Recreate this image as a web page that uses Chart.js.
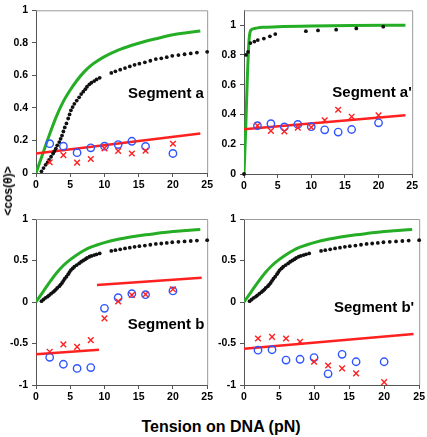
<!DOCTYPE html>
<html><head><meta charset="utf-8">
<script src="https://cdn.jsdelivr.net/npm/chart.js@4.4.1/dist/chart.umd.min.js"></script>
<style>
html,body{margin:0;padding:0;background:#fff;width:427px;height:437px;overflow:hidden;}
canvas{position:absolute;}
#ytitle{position:absolute;left:8px;top:191px;transform:translate(-50%,-50%) rotate(-90deg);font:bold 12px "Liberation Sans",Arial,sans-serif;white-space:nowrap;color:#000;}
#xtitle{position:absolute;left:221px;top:427px;transform:translate(-50%,-50%);font:bold 16px "Liberation Sans",Arial,sans-serif;white-space:nowrap;color:#000;}
</style></head><body>
<canvas id="ca" width="215" height="195" style="left:0;top:0"></canvas>
<canvas id="cap" width="215" height="195" style="left:205px;top:0"></canvas>
<canvas id="cb" width="215" height="205" style="left:0;top:200px"></canvas>
<canvas id="cbp" width="222" height="205" style="left:205px;top:200px"></canvas>
<div id="ytitle">&lt;cos(θ)&gt;</div>
<div id="xtitle">Tension on DNA (pN)</div>
<script>
// ---------- data ----------
const xTicks = [0, 5, 10, 15, 20, 25];
const yTicksTop = [0, 0.2, 0.4, 0.6, 0.8, 1];
const yTicksBottom = [-1, -0.5, 0, 0.5, 1];
const segmentLabels = ["Segment a", "Segment a'", "Segment b", "Segment b'"];
const xTitle = "Tension on DNA (pN)";
const yTitle = "<cos(θ)>";

// model curve (green) shared by a, b, b'
const greenX = [0, 1, 2, 3, 4, 5, 6, 7, 8, 9, 10, 12, 14, 16, 18, 20, 22, 24];
const greenY = [0, 0.12, 0.24, 0.35, 0.44, 0.51, 0.57, 0.62, 0.66, 0.69, 0.715, 0.755, 0.785, 0.81, 0.83, 0.85, 0.862, 0.873];
// measured extension (black dots) shared by a, b, b'
const dotsX = [0.8, 1.1, 1.4, 1.7, 1.9, 2.2, 2.5, 2.7, 2.9, 3.1, 3.4, 3.6, 3.8, 4.0, 4.2, 4.45, 4.7, 4.9, 5.1, 5.35, 5.6, 5.95, 6.3, 6.6, 6.9, 7.2, 7.45, 7.8, 8.1, 8.5, 8.85, 9.3,
  11.0, 11.6, 12.3, 13.0, 13.7, 14.4, 15.1, 15.9, 16.7, 17.5, 18.3, 19.1, 19.9, 20.8, 21.7, 22.6, 23.5, 25.0];
const dotsY = [0.01, 0.03, 0.05, 0.065, 0.08, 0.10, 0.12, 0.135, 0.15, 0.17, 0.19, 0.21, 0.23, 0.255, 0.28, 0.305, 0.335, 0.36, 0.385, 0.405, 0.425, 0.445, 0.465, 0.485, 0.50, 0.515, 0.53, 0.545, 0.555, 0.565, 0.575, 0.585,
  0.615, 0.625, 0.635, 0.645, 0.655, 0.665, 0.672, 0.68, 0.69, 0.70, 0.705, 0.712, 0.72, 0.725, 0.73, 0.735, 0.74, 0.745];

// segment a' curves
const apGreenX = [0, 0.25, 0.5, 0.75, 1, 1.5, 2, 3, 5, 10, 16, 24];
const apGreenY = [0, 0.3, 0.65, 0.9, 0.965, 0.977, 0.982, 0.986, 0.99, 0.995, 0.998, 1.0];
const apDotsX = [0, 0.3, 0.6, 0.95, 1.55, 2.05, 2.95, 3.85, 4.65, 9.2, 11.0, 13.7, 16.7, 20.7];
const apDotsY = [0, 0.80, 0.82, 0.88, 0.89, 0.90, 0.91, 0.925, 0.94, 0.96, 0.965, 0.97, 0.978, 0.99];

// simulation forces
const forceX = [2, 4, 6, 8, 10, 12, 14, 16, 20];

// segment a
const aCircles = [0.18, 0.165, 0.125, 0.155, 0.165, 0.175, 0.195, 0.163, 0.12];
const aCrosses = [0.066, 0.11, 0.064, 0.086, 0.151, 0.135, 0.12, 0.137, 0.18];
const aLineX = [0, 24];
const aLineY = [0.12, 0.243];
// segment a'
const apCircles = [0.325, 0.338, 0.316, 0.333, 0.318, 0.297, 0.282, 0.299, 0.344];
const apCrosses = [0.325, 0.29, 0.286, 0.312, 0.314, 0.361, 0.432, 0.385, 0.394];
const apLineX = [0, 24];
const apLineY = [0.30, 0.394];
// segment b
const bCircles = [-0.667, -0.75, -0.80, -0.79, -0.076, 0.052, 0.10, 0.088, 0.133];
const bCrosses = [-0.60, -0.51, -0.54, -0.46, -0.197, 0.008, 0.084, 0.092, 0.153];
const bLine1X = [0, 9.2];
const bLine1Y = [-0.63, -0.574];
const bLine2X = [8.9, 24.2];
const bLine2Y = [0.205, 0.293];
// segment b'
const bpCircles = [-0.58, -0.575, -0.70, -0.69, -0.67, -0.865, -0.63, -0.72, -0.72];
const bpCrosses = [-0.44, -0.42, -0.44, -0.48, -0.72, -0.765, -0.80, -0.86, -0.965];
const bpLineX = [0, 24.2];
const bpLineY = [-0.563, -0.386];

// ---------- helpers ----------
const FONT = '"Liberation Sans", Arial, sans-serif';
const GREEN = '#26ad26', RED = '#ff2020', BLUE = '#2f55ff', BLACK = '#111';
function pts(xs, ys) { return xs.map((x, i) => ({ x: x, y: ys[i] })); }
function greenDs(xs, ys) {
  return { data: pts(xs, ys), showLine: true, pointRadius: 0, borderColor: GREEN, borderWidth: 3, cubicInterpolationMode: 'monotone', order: 5 };
}
function redDs(xs, ys) {
  return { data: pts(xs, ys), showLine: true, pointRadius: 0, borderColor: RED, borderWidth: 2.5, order: 4 };
}
function dotDs(xs, ys) {
  return { data: pts(xs, ys), showLine: false, pointRadius: 1.9, pointBackgroundColor: BLACK, pointBorderWidth: 0, clip: false, order: 3 };
}
function circleDs(ys) {
  return { data: pts(forceX, ys), showLine: false, pointStyle: 'circle', pointRadius: 3.7, pointBackgroundColor: 'rgba(0,0,0,0)', pointBorderColor: BLUE, pointBorderWidth: 1.4, clip: false, order: 2 };
}
function crossDs(ys) {
  return { data: pts(forceX, ys), showLine: false, pointStyle: 'crossRot', pointRadius: 4, pointBorderColor: RED, pointBorderWidth: 1.4, clip: false, order: 1 };
}
const framePlugin = {
  id: 'frame',
  beforeDatasetsDraw(chart) {
    const a = chart.chartArea, ctx = chart.ctx;
    ctx.save();
    ctx.strokeStyle = '#9a9a9a'; ctx.lineWidth = 1;
    ctx.beginPath();
    ctx.moveTo(a.left, a.top + 0.5); ctx.lineTo(a.right + 0.5, a.top + 0.5); ctx.lineTo(a.right + 0.5, a.bottom);
    ctx.stroke();
    ctx.restore();
  }
};
const labelPlugin = {
  id: 'seglabel',
  afterDatasetsDraw(chart, args, opts) {
    const ctx = chart.ctx;
    ctx.save();
    ctx.font = 'bold 15px ' + FONT;
    ctx.fillStyle = '#000'; ctx.textAlign = 'center'; ctx.textBaseline = 'middle';
    ctx.fillText(opts.text, opts.x, opts.y);
    ctx.restore();
  }
};
function fmt(v) { return String(Math.round(v * 10) / 10); }
function makePanel(id, c) {
  new Chart(document.getElementById(id), {
    type: 'scatter',
    data: { datasets: c.datasets },
    plugins: [framePlugin, labelPlugin],
    options: {
      responsive: false, animation: false, devicePixelRatio: 1,
      layout: { padding: { top: c.padTop, right: c.padRight, left: 0, bottom: 0 } },
      plugins: { legend: { display: false }, tooltip: { enabled: false }, seglabel: { text: c.label, x: c.lx, y: c.ly } },
      scales: {
        x: {
          type: 'linear', min: 0, max: 25,
          afterBuildTicks: s => { s.ticks = xTicks.map(v => ({ value: v })); },
          afterFit: s => { s.height = c.xH; },
          border: { display: true, color: '#555', width: 1 },
          grid: { drawOnChartArea: false, drawTicks: true, tickLength: 4, color: '#555' },
          ticks: { color: '#000', font: { family: FONT, size: 10.5, weight: 'bold' }, padding: 2, maxRotation: 0, callback: v => fmt(v) }
        },
        y: {
          type: 'linear', min: c.yMin, max: c.yMax,
          afterBuildTicks: s => { s.ticks = c.yTicks.map(v => ({ value: v })); },
          afterFit: s => { s.width = c.yW; },
          border: { display: true, color: '#555', width: 1 },
          grid: { drawOnChartArea: false, drawTicks: true, tickLength: 4, color: '#555' },
          ticks: { color: '#000', font: { family: FONT, size: 10.5, weight: 'bold' }, padding: 4, callback: v => fmt(v) }
        }
      }
    }
  });
}

makePanel('ca', {
  yMin: 0, yMax: 1, yTicks: yTicksTop, yW: 36, padTop: 6, padRight: 5, xH: 22,
  label: segmentLabels[0], lx: 166, ly: 94,
  datasets: [greenDs(greenX, greenY), redDs(aLineX, aLineY), dotDs(dotsX, dotsY), circleDs(aCircles), crossDs(aCrosses)]
});
makePanel('cap', {
  yMin: 0, yMax: 1.1, yTicks: yTicksTop, yW: 39, padTop: 5, padRight: 5, xH: 21,
  label: segmentLabels[1], lx: 167, ly: 93,
  datasets: [greenDs(apGreenX, apGreenY), redDs(apLineX, apLineY), dotDs(apDotsX, apDotsY), circleDs(apCircles), crossDs(apCrosses)]
});
makePanel('cb', {
  yMin: -1, yMax: 1, yTicks: yTicksBottom, yW: 36, padTop: 19, padRight: 7, xH: 20,
  label: segmentLabels[2], lx: 166, ly: 125,
  datasets: [greenDs(greenX, greenY), redDs(bLine1X, bLine1Y), redDs(bLine2X, bLine2Y), dotDs(dotsX, dotsY), circleDs(bCircles), crossDs(bCrosses)]
});
makePanel('cbp', {
  yMin: -1, yMax: 1, yTicks: yTicksBottom, yW: 39, padTop: 19, padRight: 5, xH: 20,
  label: segmentLabels[3], lx: 169, ly: 108,
  datasets: [greenDs(greenX, greenY), redDs(bpLineX, bpLineY), dotDs(dotsX, dotsY), circleDs(bpCircles), crossDs(bpCrosses)]
});
document.getElementById('ytitle').textContent = yTitle;
document.getElementById('xtitle').textContent = xTitle;
</script>
</body></html>
